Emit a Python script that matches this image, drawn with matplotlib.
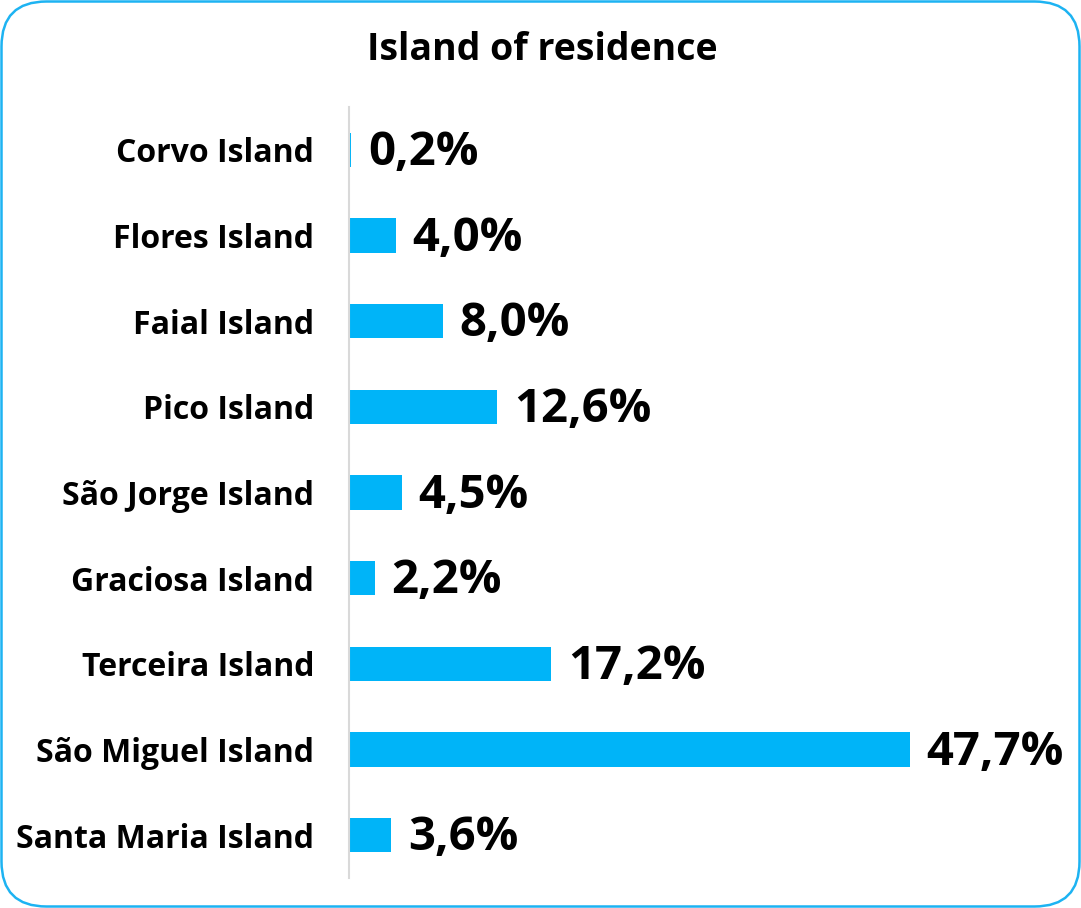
import matplotlib
matplotlib.use('Agg')
import matplotlib.pyplot as plt
from matplotlib.patches import FancyBboxPatch

# island of residence, share of respondents (%)
islands = ['Corvo Island', 'Flores Island', 'Faial Island', 'Pico Island',
           'São Jorge Island', 'Graciosa Island', 'Terceira Island',
           'São Miguel Island', 'Santa Maria Island']
shares = [0.2, 4.0, 8.0, 12.6, 4.5, 2.2, 17.2, 47.7, 3.6]
value_labels = ['0,2%', '4,0%', '8,0%', '12,6%', '4,5%', '2,2%', '17,2%',
                '47,7%', '3,6%']

plt.rcParams['font.family'] = ['Open Sans', 'DejaVu Sans']
bar_color = '#00B4F8'

fig = plt.figure(figsize=(10.81, 9.08), dpi=100)
ax = fig.add_axes([349 / 1081, 30 / 908, 691 / 1081, 771 / 908])

pos = list(range(len(islands)))
ax.barh(pos, shares, height=0.4, color=bar_color)
ax.set_ylim(len(islands) - 0.5, -0.5)
ax.set_xlim(0, 691 / 11.76)

ax.set_yticks(pos)
ax.set_yticklabels(islands, fontsize=23, fontweight='bold')
ax.tick_params(axis='y', length=0, pad=25)
ax.set_xticks([])

for s in ['top', 'right', 'bottom']:
    ax.spines[s].set_visible(False)
ax.spines['left'].set_color('#d9d9d9')
ax.spines['left'].set_linewidth(1.5)

for y, v, lab in zip(pos, shares, value_labels):
    ax.annotate(lab, (v, y), xytext=(12, -2), textcoords='offset points',
                ha='left', va='center', fontsize=34, fontweight='bold')

fig.text(542 / 1081, 1 - 50 / 908, 'Island of residence', ha='center',
         va='center', fontsize=27, fontweight='bold')

# rounded frame around the whole chart
frame = FancyBboxPatch((0.015, 0.015), 10.78, 9.05,
                       boxstyle='round,pad=0,rounding_size=0.45',
                       transform=fig.dpi_scale_trans, fill=False,
                       edgecolor='#1DB3F2', linewidth=1.8)
fig.patches.append(frame)

fig.savefig('out.png', dpi=100)
